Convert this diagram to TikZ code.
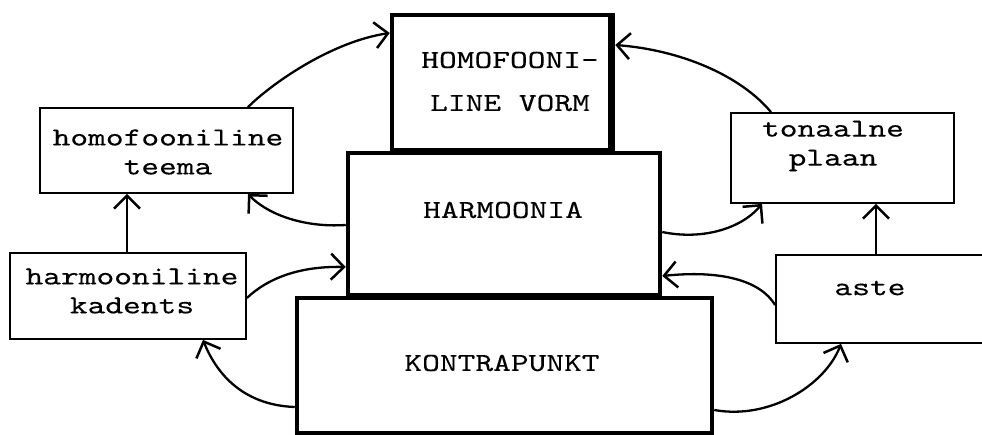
\documentclass[tikz,border=0pt]{standalone}
\usepackage{fontspec}
\usetikzlibrary{arrows.meta,calc}
\newfontfamily\twf{lmmono10-regular.otf}[FakeStretch=1.3,FakeBold=0.25]
\begin{document}
\begin{tikzpicture}[x=1pt,y=-1pt,
  smallbox/.style={draw, line width=1.8pt, inner sep=0pt, fill=white},
  bigbox/.style={draw, line width=4.5pt, inner sep=0pt, fill=white},
  txt/.style={font=\twf\fontsize{26}{29}\selectfont, align=center, inner sep=0pt},
  bigtxt/.style={font=\twf\fontsize{26}{43}\selectfont, align=center, inner sep=0pt},
  conn/.style={line width=2.3pt, -{Straight Barb[length=13pt,width=26pt,line width=2.5pt]}}]
\useasboundingbox (0,0) rectangle (982,435);
\fill[white] (0,0) rectangle (982,435);
% big stacked boxes
\node[bigbox, minimum width=221pt, minimum height=135pt] (hv) at (502.5,82.5) {};
\draw[line width=7pt] ($(hv.north east)+(-3.5,2)$) -- ($(hv.south east)+(-3.5,0)$);
\node[bigtxt] (hvt) at (510,81.5) {HOMOFOONI-\\LINE VORM};
\node[bigbox, minimum width=312pt, minimum height=142pt] (harm) at (504,224) {};
\node[txt] (harmt) at (503,210) {HARMOONIA};
\node[bigbox, minimum width=415pt, minimum height=135pt] (kont) at (504.5,365.5) {};
\node[txt] (kontt) at (502,363) {KONTRAPUNKT};
% small boxes
\node[smallbox, minimum width=253pt, minimum height=85pt] (teema) at (166.5,150.5) {};
\node[txt] (teemat) at (168,152) {homofooniline\\teema};
\node[smallbox, minimum width=236pt, minimum height=86pt] (kad) at (128,296) {};
\node[txt] (kadt) at (132,291) {harmooniline\\kadents};
\node[smallbox, minimum width=223pt, minimum height=90pt] (tonaal) at (842.5,158) {};
\node[txt] (tonaalt) at (833,146) {tonaalne\\plaan};
\node[smallbox, minimum width=219pt, minimum height=88pt] (aste) at (885.5,299) {};
\node[txt] (astet) at (870,288) {aste};
% connectors
\draw[conn] (teema.north -| 248,0) .. controls (270,85) and (330,42) .. (hv.west |- 0,33);
\draw[conn] (tonaal.north -| 771,0) .. controls (740,75) and (680,50) .. (hv.east |- 0,45);
\draw[conn] (harm.west |- 0,225) .. controls (300,228) and (265,212) .. (teema.south -| 248,0);
\draw[conn] (kad.north -| 127,0) -- (teema.south -| 127,0);
\draw[conn] (kad.east |- 0,298) .. controls (268,278) and (300,266) .. (harm.west |- 0,267);
\draw[conn] (kont.west |- 0,407) .. controls (240,405) and (215,370) .. (kad.south -| 203,0);
\draw[conn] (harm.east |- 0,232) .. controls (700,240) and (740,230) .. (tonaal.south -| 762,0);
\draw[conn] (aste.north -| 876,0) -- (tonaal.south -| 876,0);
\draw[conn] (aste.west |- 0,305) .. controls (760,280) and (720,270) .. (harm.east |- 0,276);
\draw[conn] (kont.east |- 0,410) .. controls (770,420) and (825,385) .. (aste.south -| 841,0);
\end{tikzpicture}
\end{document}
